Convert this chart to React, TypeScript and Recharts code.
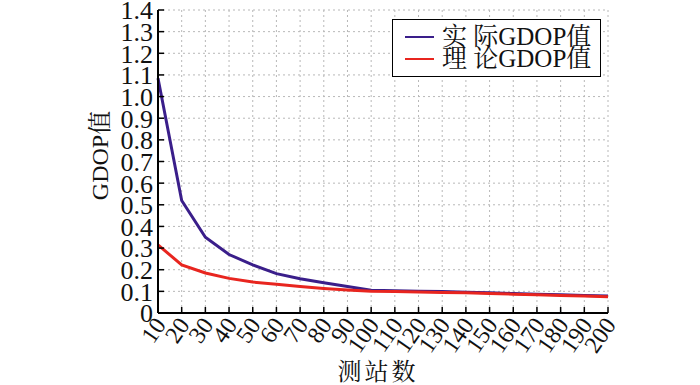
import { CartesianGrid, Legend, Line, LineChart, XAxis, YAxis } from "recharts";

const stations = [10, 20, 30, 40, 50, 60, 70, 80, 90, 100, 110, 120, 130, 140, 150, 160, 170, 180, 190, 200];
const actualGdop = [1.085, 0.52, 0.35, 0.27, 0.222, 0.182, 0.158, 0.14, 0.122, 0.105, 0.103, 0.101, 0.099, 0.096, 0.093, 0.09, 0.087, 0.084, 0.081, 0.078];
const theoryGdop = [0.315, 0.222, 0.185, 0.16, 0.143, 0.133, 0.122, 0.113, 0.106, 0.1, 0.099, 0.097, 0.095, 0.093, 0.09, 0.087, 0.084, 0.081, 0.078, 0.075];
const yTicks = [0, 0.1, 0.2, 0.3, 0.4, 0.5, 0.6, 0.7, 0.8, 0.9, 1.0, 1.1, 1.2, 1.3, 1.4];
const seriesNames = ["实际GDOP值", "理论GDOP值"];
const seriesColors = ["#3a1e8a", "#e8251f"];

const data = stations.map((s, i) => ({ s, actual: actualGdop[i], theory: theoryGdop[i] }));

const FONT = '"Liberation Serif", "Noto Serif CJK SC", "Noto Sans CJK SC", serif';
const TICK_LEN = 6;
const Y_MARGIN = 5;
const X_MARGIN = 12;

function fmtY(v: number) {
  return v === 0 ? "0" : v.toFixed(1);
}

function LeftTick({ x, y, payload }: any) {
  return (
    <g>
      <line x1={x + Y_MARGIN} x2={x + Y_MARGIN + TICK_LEN} y1={y} y2={y} stroke="#000" strokeWidth={1.5} />
      <text x={x} y={y} dy="0.36em" textAnchor="end" fontFamily={FONT} fontSize={26} fill="#111">
        {fmtY(payload.value)}
      </text>
    </g>
  );
}

function RightTick({ x, y }: any) {
  return <line x1={x - TICK_LEN} x2={x} y1={y} y2={y} stroke="#000" strokeWidth={1.5} />;
}

function TopTick({ x, y }: any) {
  return <line x1={x} x2={x} y1={y} y2={y + TICK_LEN} stroke="#000" strokeWidth={1.5} />;
}

function BottomTick({ x, y, payload }: any) {
  const ay = y - X_MARGIN;
  const tx = x + 9;
  const ty = y;
  return (
    <g>
      <line x1={x} x2={x} y1={ay} y2={ay - TICK_LEN} stroke="#000" strokeWidth={1.5} />
      <text
        x={tx}
        y={ty}
        textAnchor="end"
        transform={`rotate(-55 ${tx} ${ty})`}
        fontFamily={FONT}
        fontSize={24}
        fill="#111"
      >
        {payload.value}
      </text>
    </g>
  );
}

function LegendBox() {
  return (
    <div
      style={{
        width: 195,
        border: "1.5px solid #000",
        background: "#fff",
        padding: "6px 0 6px 12px",
        fontFamily: FONT,
        fontSize: 25,
        lineHeight: "22px",
        color: "#111",
      }}
    >
      {seriesNames.map((name, i) => (
        <div key={name} style={{ display: "flex", alignItems: "center", height: 22 }}>
          <span style={{ display: "inline-block", width: 29, height: 0, borderTop: `2px solid ${seriesColors[i]}`, marginRight: 8 }} />
          <span>
            {name.slice(0, 2).split("").join(" ")}
            {name.slice(2)}
          </span>
        </div>
      ))}
    </div>
  );
}

export default function App() {
  return (
    <div style={{ position: "fixed", left: 0, top: 0, width: 700, height: 385, background: "#fff" }}>
      <LineChart width={700} height={385} data={data} margin={{ top: 10, right: 92, left: 0, bottom: 0 }}>
        <CartesianGrid stroke="#b8b8b8" strokeDasharray="2 3" strokeWidth={1} />
        <XAxis
          dataKey="s"
          type="number"
          domain={[10, 200]}
          ticks={stations}
          interval={0}
          height={72}
          tickSize={0}
          tickMargin={X_MARGIN}
          axisLine={{ stroke: "#000", strokeWidth: 2 }}
          tick={<BottomTick />}
          label={{
            content: ({ viewBox }: any) => (
              <text
                x={viewBox.x + viewBox.width / 2 - 5}
                y={viewBox.y + 67}
                textAnchor="middle"
                fontFamily={FONT}
                fontSize={24}
                letterSpacing={3}
                fill="#111"
              >
                测站数
              </text>
            ),
          }}
        />
        <XAxis
          xAxisId="top"
          orientation="top"
          dataKey="s"
          type="number"
          domain={[10, 200]}
          ticks={stations}
          interval={0}
          height={0}
          tickSize={0}
          tickMargin={0}
          axisLine={{ stroke: "#000", strokeWidth: 2 }}
          tick={<TopTick />}
        />
        <YAxis
          domain={[0, 1.4]}
          ticks={yTicks}
          interval={0}
          width={158}
          tickSize={0}
          tickMargin={Y_MARGIN}
          axisLine={{ stroke: "#000", strokeWidth: 2 }}
          tick={<LeftTick />}
          label={{
            content: ({ viewBox }: any) => {
              const cx = viewBox.x + 100;
              const cy = viewBox.y + viewBox.height / 2 - 6;
              return (
                <text
                  x={cx}
                  y={cy}
                  dy="0.35em"
                  textAnchor="middle"
                  transform={`rotate(-90 ${cx} ${cy})`}
                  fontFamily={FONT}
                  fontSize={24}
                  fill="#111"
                >
                  GDOP值
                </text>
              );
            },
          }}
        />
        <YAxis
          yAxisId="right"
          orientation="right"
          domain={[0, 1.4]}
          ticks={yTicks}
          interval={0}
          width={0}
          tickSize={0}
          tickMargin={0}
          axisLine={{ stroke: "#000", strokeWidth: 2 }}
          tick={<RightTick />}
        />
        <Legend
          layout="horizontal"
          verticalAlign="middle"
          align="center"
          content={<LegendBox />}
          wrapperStyle={{ position: "absolute", left: 392, top: 19, width: "auto" }}
        />
        <Line
          type="linear"
          dataKey="actual"
          name={seriesNames[0]}
          stroke={seriesColors[0]}
          strokeWidth={3}
          dot={false}
          isAnimationActive={false}
        />
        <Line
          type="linear"
          dataKey="theory"
          name={seriesNames[1]}
          stroke={seriesColors[1]}
          strokeWidth={3}
          dot={false}
          isAnimationActive={false}
        />
      </LineChart>
    </div>
  );
}
